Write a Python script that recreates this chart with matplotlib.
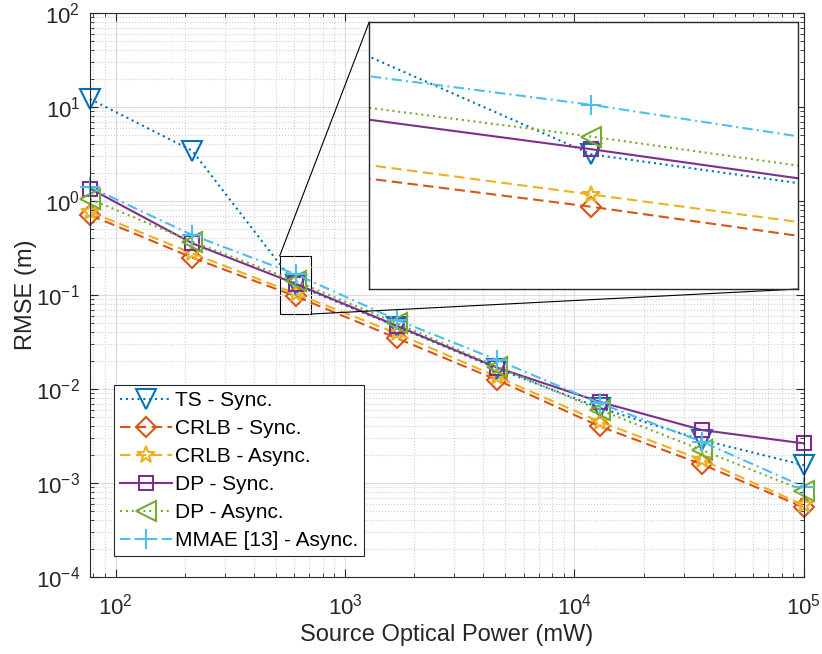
import matplotlib
matplotlib.use('Agg')
import matplotlib.pyplot as plt
from mpl_toolkits.axes_grid1.inset_locator import mark_inset

plt.rcParams['font.family'] = ['Liberation Sans', 'DejaVu Sans']
plt.rcParams['mathtext.fontset'] = 'custom'
plt.rcParams['mathtext.rm'] = 'Liberation Sans'
plt.rcParams['mathtext.it'] = 'Liberation Sans'
plt.rcParams['mathtext.bf'] = 'Liberation Sans'

# source optical power (mW)
power = [77.4, 216, 610, 1690, 4600, 12900, 36000, 100000]

# RMSE (m) for each method
ts_sync = [12.2, 3.43, 0.128, 0.046, 0.0165, 0.0063, 0.00287, 0.00155]
crlb_sync = [0.71, 0.25, 0.097, 0.0346, 0.0125, 0.0040, 0.00158, 0.00055]
crlb_async = [0.77, 0.278, 0.1035, 0.039, 0.0135, 0.00449, 0.00176, 0.00058]
dp_sync = [1.36, 0.355, 0.1315, 0.0468, 0.0169, 0.0073, 0.00366, 0.00264]
dp_async = [1.05, 0.37, 0.1406, 0.050, 0.0173, 0.0060, 0.00224, 0.00083]
mmae_async = [1.41, 0.435, 0.1663, 0.0542, 0.0204, 0.00705, 0.00275, 0.00091]

labels = ['TS - Sync.', 'CRLB - Sync.', 'CRLB - Async.', 'DP - Sync.',
          'DP - Async.', 'MMAE [13] - Async.']
series = [ts_sync, crlb_sync, crlb_async, dp_sync, dp_async, mmae_async]
colors = ['#0072BD', '#D95319', '#EDB120', '#7E2F8E', '#77AC30', '#4DBEEE']
styles = [(0, (1, 1.8)), (0, (5, 2.6)), (0, (5, 2.6)), '-', (0, (1, 1.8)),
          (0, (5, 2, 1, 2))]
markers = ['v', 'D', '*', 's', '<', '+']
msizes = [14, 10, 13, 10, 14, 14]

fig = plt.figure(figsize=(8.22, 6.54), dpi=100)
ax = fig.add_axes([0.1095, 0.1177, 0.8685, 0.8623])

def draw(a, clip):
    for y, lab, c, ls, m, ms in zip(series, labels, colors, styles, markers, msizes):
        a.plot(power, y, linestyle=ls, color=c, marker=m, markersize=ms,
               markerfacecolor='none', markeredgewidth=1.5, linewidth=1.5,
               label=lab, clip_on=clip)
    a.set_xscale('log')
    a.set_yscale('log')

draw(ax, False)
ax.set_xlim(77.4, 1e5)
ax.set_ylim(1e-4, 1e2)
ax.grid(which='major', color='#DCDCDC', linewidth=0.8)
ax.grid(which='minor', color='#D0D0D0', linestyle=':', linewidth=0.8)
ax.tick_params(which='both', direction='in', top=True, right=True,
               colors='#262626', labelsize=16)
ax.tick_params(axis='x', pad=12)
ax.tick_params(axis='y', pad=7)
ax.tick_params(which='major', length=6)
ax.tick_params(which='minor', length=3)
for s in ax.spines.values():
    s.set_color('#262626')
ax.set_xlabel('Source Optical Power (mW)', fontsize=17, color='#262626',
              labelpad=3)
ax.set_ylabel('RMSE (m)', fontsize=17, color='#262626', labelpad=-1)

leg = ax.legend(loc='lower left', bbox_to_anchor=(0.0336, 0.037),
                borderaxespad=0, fontsize=15, fancybox=False,
                framealpha=1, edgecolor='#262626', handlelength=2.5,
                handletextpad=0.12, labelspacing=0.43, borderpad=0.3)
leg.get_frame().set_linewidth(0.8)

# zoomed inset
axins = fig.add_axes([0.4493, 0.558, 0.5211, 0.4088])
draw(axins, True)
axins.set_xlim(518.3, 709.6)
axins.set_ylim(0.0628, 0.258)
axins.tick_params(which='both', length=0, labelbottom=False, labelleft=False)
for s in axins.spines.values():
    s.set_color('#262626')
    s.set_linewidth(1.0)
mark_inset(ax, axins, loc1=2, loc2=4, fc='none', ec='k', lw=0.8)

fig.savefig('out.png', dpi=100)
